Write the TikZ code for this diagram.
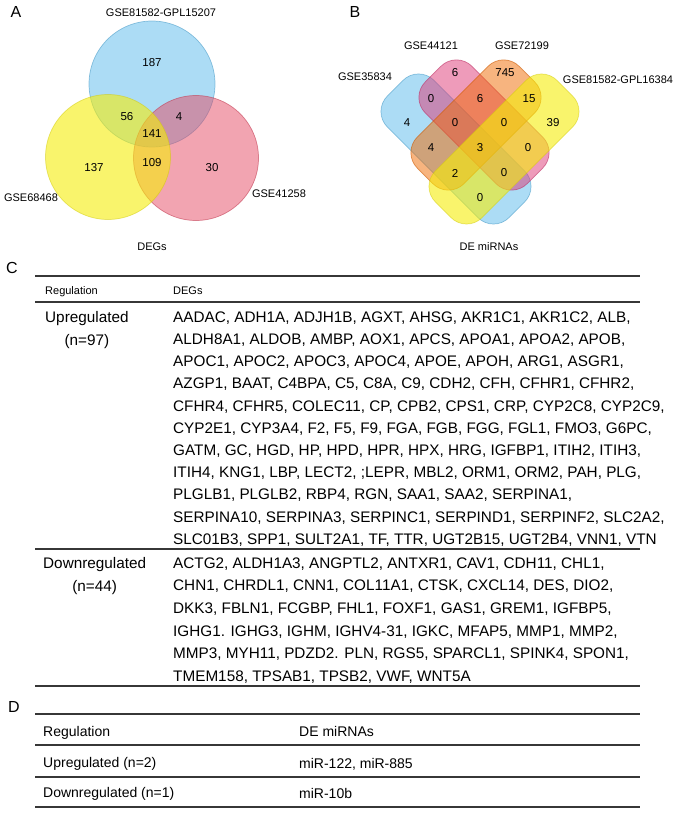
\documentclass[tikz,border=0pt]{standalone}
\usepackage{fontspec}
\setmainfont{Liberation Sans}
\usetikzlibrary{positioning}
\definecolor{vblue}{RGB}{90,185,235}
\definecolor{vyellow}{RGB}{245,237,10}
\definecolor{vpink}{RGB}{229,73,99}
\definecolor{bpink}{RGB}{221,55,117}
\definecolor{borange}{RGB}{240,105,0}
\definecolor{rulegray}{RGB}{55,55,55}

\begin{document}
\begin{tikzpicture}[x=1pt, y=-1pt,
        vennset/.style={fill=#1, fill opacity=0.5, draw=#1!85!black, draw opacity=0.6, line width=0.7pt},
        vennsety/.style={fill=#1, fill opacity=0.6, draw=#1!85!black, draw opacity=0.5, line width=0.7pt},
        vnum/.style={font=\fontsize{11.5}{13}\selectfont, inner sep=0pt},
        setname/.style={font=\fontsize{11}{13}\selectfont, inner sep=0pt},
        panel/.style={font=\fontsize{16}{18}\selectfont, inner sep=0pt},
        cell/.style={font=\fontsize{15.3}{18}\selectfont, inner sep=0pt, anchor=west, text height=10.7pt, text depth=0pt},
        dcell/.style={cell, font=\fontsize{14}{17}\selectfont},
        headcell/.style={font=\fontsize{11}{13}\selectfont, inner sep=0pt, anchor=west, text height=8pt, text depth=0pt},
        hrule/.style={draw=rulegray, line width=1.2pt}]
    \useasboundingbox (0,0) rectangle (677,813);

    % 维恩图 A
    \node[panel] (labA) at (16,12) {A};
    \draw[vennset=vblue] (152,84) circle (63pt);
    \draw[vennset=vpink] (196,158) circle (62.5pt);
    \draw[vennsety=vyellow] (108,157) circle (62.5pt);
    \node[setname] (setA1) at (161,13) {GSE81582-GPL15207};
    \node[setname] (setA2) at (31,198) {GSE68468};
    \node[setname] (setA3) at (279,194) {GSE41258};
    \node[setname] (titleA) at (152,247) {DEGs};
    \node[vnum] (a187) at (152,63) {187};
    \node[vnum] (a56) at (127,117) {56};
    \node[vnum] (a4) at (179,117) {4};
    \node[vnum] (a141) at (152,134) {141};
    \node[vnum] (a137) at (94,168) {137};
    \node[vnum] (a109) at (152,163) {109};
    \node[vnum] (a30) at (212,168) {30};

    % 维恩图 B
    \node[panel] (labB) at (355,12) {B};
    \draw[vennset=vblue, rounded corners=22pt, shift={(456,149)}, rotate=-45] (-86pt,-33pt) rectangle (86pt,33pt);
    \draw[vennset=bpink, rounded corners=22pt, shift={(484,125)}, rotate=-45] (-72pt,-33pt) rectangle (72pt,33pt);
    \draw[vennset=borange, rounded corners=22pt, shift={(476,125)}, rotate=45] (-72pt,-33pt) rectangle (72pt,33pt);
    \draw[vennsety=vyellow, rounded corners=22pt, shift={(504,149)}, rotate=45] (-86pt,-33pt) rectangle (86pt,33pt);
    \node[setname] (setB1) at (365,77) {GSE35834};
    \node[setname] (setB2) at (431,46) {GSE44121};
    \node[setname] (setB3) at (522,46) {GSE72199};
    \node[setname] (setB4) at (618,80) {GSE81582-GPL16384};
    \node[setname] (titleB) at (489,247) {DE miRNAs};
    \node[vnum] (b1) at (455,73) {6};
    \node[vnum] (b2) at (505,73) {745};
    \node[vnum] (b3) at (431,99) {0};
    \node[vnum] (b4) at (480,99) {6};
    \node[vnum] (b5) at (529,99) {15};
    \node[vnum] (b6) at (407,123) {4};
    \node[vnum] (b7) at (455,123) {0};
    \node[vnum] (b8) at (504,123) {0};
    \node[vnum] (b9) at (553,123) {39};
    \node[vnum] (b10) at (431,148) {4};
    \node[vnum] (b11) at (480,148) {3};
    \node[vnum] (b12) at (528,148) {0};
    \node[vnum] (b13) at (455,173) {2};
    \node[vnum] (b14) at (504,173) {0};
    \node[vnum] (b15) at (480,198) {0};

    % 表 C
    \node[panel] (labC) at (12,268) {C};
    \draw[hrule] (35,276) -- (640,276);
    \node[headcell] (hreg) at (45,290) {Regulation};
    \node[headcell] (hdeg) at (173,290) {DEGs};
    \draw[hrule] (35,302) -- (640,302);
    \node[cell] (upreg) at (45,317) {Upregulated};
    \node[cell, below=11.6pt of upreg.south] (upn) {(n=97)};
    \foreach \genes [count=\i] in {
        {AADAC, ADH1A, ADJH1B, AGXT, AHSG, AKR1C1, AKR1C2, ALB,},
        {ALDH8A1, ALDOB, AMBP, AOX1, APCS, APOA1, APOA2, APOB,},
        {APOC1, APOC2, APOC3, APOC4, APOE, APOH, ARG1, ASGR1,},
        {AZGP1, BAAT, C4BPA, C5, C8A, C9, CDH2, CFH, CFHR1, CFHR2,},
        {CFHR4, CFHR5, COLEC11, CP, CPB2, CPS1, CRP, CYP2C8, CYP2C9,},
        {CYP2E1, CYP3A4, F2, F5, F9, FGA, FGB, FGG, FGL1, FMO3, G6PC,},
        {GATM, GC, HGD, HP, HPD, HPR, HPX, HRG, IGFBP1, ITIH2, ITIH3,},
        {ITIH4, KNG1, LBP, LECT2, ;LEPR, MBL2, ORM1, ORM2, PAH, PLG,},
        {PLGLB1, PLGLB2, RBP4, RGN, SAA1, SAA2, SERPINA1,},
        {SERPINA10, SERPINA3, SERPINC1, SERPIND1, SERPINF2, SLC2A2,},
        {SLC01B3, SPP1, SULT2A1, TF, TTR, UGT2B15, UGT2B4, VNN1, VTN}}
        \node[cell] (up\i) at (173,{317+22.2*(\i-1)}) {\genes};
    \draw[hrule] (35,549) -- (640,549);
    \node[cell] (downreg) at (43,563) {Downregulated};
    \node[cell, below=11.8pt of downreg.south] (downn) {(n=44)};
    \foreach \genes [count=\i] in {
        {ACTG2, ALDH1A3, ANGPTL2, ANTXR1, CAV1, CDH11, CHL1,},
        {CHN1, CHRDL1, CNN1, COL11A1, CTSK, CXCL14, DES, DIO2,},
        {DKK3, FBLN1, FCGBP, FHL1, FOXF1, GAS1, GREM1, IGFBP5,},
        {IGHG1. IGHG3, IGHM, IGHV4-31, IGKC, MFAP5, MMP1, MMP2,},
        {MMP3, MYH11, PDZD2. PLN, RGS5, SPARCL1, SPINK4, SPON1,},
        {TMEM158, TPSAB1, TPSB2, VWF, WNT5A}}
        \node[cell] (down\i) at (173,{563+22.6*(\i-1)}) {\genes};
    \draw[hrule] (35,686) -- (640,686);

    % 表 D
    \node[panel] (labD) at (14,707) {D};
    \draw[hrule] (35,714) -- (640,714);
    \node[dcell] (dreg) at (43,731) {Regulation};
    \node[dcell] (dmir) at (299,731) {DE miRNAs};
    \draw[hrule] (35,745) -- (640,745);
    \node[dcell] (dup) at (43,762) {Upregulated (n=2)};
    \node[dcell] (dupmir) at (299,763) {miR-122, miR-885};
    \draw[hrule] (35,777) -- (640,777);
    \node[dcell] (ddown) at (43,792) {Downregulated (n=1)};
    \node[dcell] (ddownmir) at (299,793) {miR-10b};
    \draw[hrule] (35,807) -- (640,807);
\end{tikzpicture}
\end{document}
